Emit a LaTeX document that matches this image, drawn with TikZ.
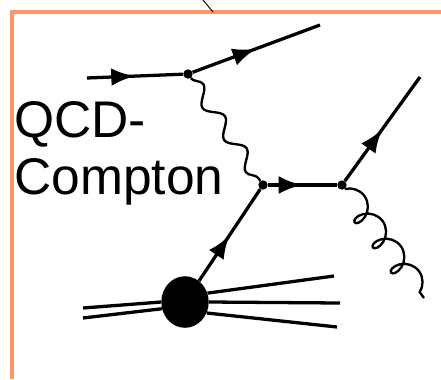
\documentclass[tikz,border=0pt]{standalone}
\usepackage{fontspec}
\setmainfont{Liberation Sans}
\usetikzlibrary{decorations.markings,decorations.pathmorphing,arrows.meta}
\definecolor{framecol}{RGB}{255,150,100}
\tikzset{
	fermion/.style={line width=2.8pt, postaction={decorate},
		decoration={markings, mark=at position 0.5 with {\arrow[scale=1.3]{Latex}}}},
	photon/.style={line width=2pt, decorate,
		decoration={snake, amplitude=6pt, segment length=33pt}},
	gluon/.style={line width=2pt, decorate,
		decoration={coil, amplitude=10pt, segment length=26.5pt, aspect=0.8}},
	vtx/.style={circle, fill, inner sep=0pt, minimum size=8pt},
}
\begin{document}
\begin{tikzpicture}[x=0.03cm, y=-0.03cm]
	\useasboundingbox (0, 0) rectangle (441, 379);

	% frame
	\draw[framecol, line width=4pt] (12, 379) -- (12, 12) -- (441, 12);
	\draw[line width=0.8pt] (203, 0) -- (213, 12);

	\node[anchor=north west, align=left, inner sep=0pt, font=\fontsize{44}{49}\selectfont] (title) at (14, 101) {QCD-\\Compton};

	\node[vtx] (a) at (188, 74) {};
	\node[vtx] (b) at (263, 185) {};
	\node[vtx] (c) at (342, 185) {};
	\node[circle, fill, minimum width=44pt, inner sep=0pt, xscale=0.92] (p) at (185, 302) {};

	\coordinate (ein) at (87, 78);
	\coordinate (eout) at (320, 25);
	\coordinate (qout) at (420, 77);
	\coordinate (gout) at (424, 298);

	\draw[fermion] (ein) -- (a);
	\draw[fermion] (a) -- (eout);
	\draw[photon] (a) -- (b);
	\draw[fermion] (b) -- (c);
	\draw[fermion] (c) -- (qout);
	\draw[gluon] (c) -- (gout);
	\draw[fermion] (p) -- (b);

	% proton and remnants
	\draw[line width=2.8pt] (83, 308) -- (p.180);
	\draw[line width=2.8pt] (83, 318) -- (p.195);
	\draw[line width=2.8pt] (p.20) -- (334, 276);
	\draw[line width=2.8pt] (p.0) -- (340, 303);
	\draw[line width=2.8pt] (p.-25) -- (337, 327);
\end{tikzpicture}
\end{document}
